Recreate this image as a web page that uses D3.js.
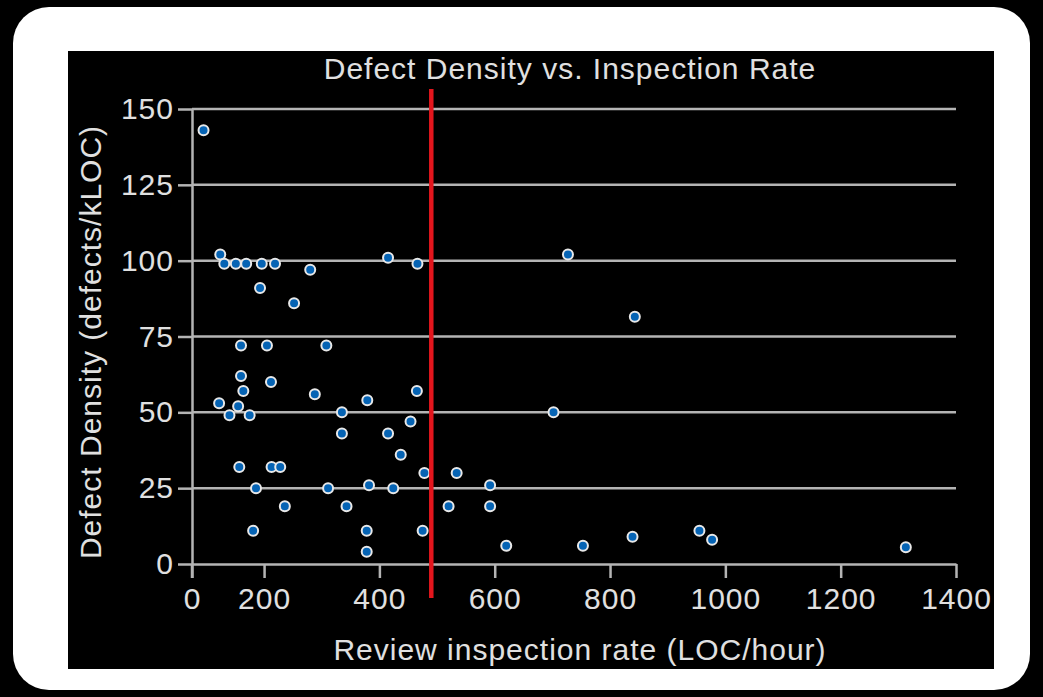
<!DOCTYPE html>
<html>
<head>
<meta charset="utf-8">
<script src="https://cdn.jsdelivr.net/npm/d3@7"></script>
<style>
    body { margin: 0; background: #000; }
    text { font-family: "Liberation Sans", Arial, sans-serif; fill: #e0e0e0; }
</style>
</head>
<body>
<svg id="chart" width="1043" height="697"></svg>
<script>
(function() {
    // inspection rate (LOC/hour) for each review
    var rates = [95, 124, 131, 151, 169, 196, 219, 280, 193, 252, 415, 466,
        160, 205, 308, 160, 212, 164, 288, 379, 465, 122, 140, 155, 175, 335,
        454, 335, 415, 437, 157, 213, 228, 186, 311, 382, 424, 478, 534, 236,
        343, 520, 181, 378, 475, 378, 592, 592, 620, 753, 839, 955, 977, 1313,
        727, 843, 702];
    // defect density (defects/kLOC) for each review
    var densities = [143, 102, 99, 99, 99, 99, 99, 97, 91, 86, 101, 99,
        72, 72, 72, 62, 60, 57, 56, 54, 57, 53, 49, 52, 49, 50,
        47, 43, 43, 36, 32, 32, 32, 25, 25, 26, 25, 30, 30, 19,
        19, 19, 11, 11, 11, 4, 26, 19, 6, 6, 9, 11, 8, 5.5,
        102, 81.5, 50];
    var xStart = 75;          // where the drawn x axis begins
    var xEnd = 1400;
    var xTicks = [200, 400, 600, 800, 1000, 1200, 1400];
    var yTicks = [0, 25, 50, 75, 100, 125, 150];
    var targetRate = 490;     // red reference line

    var data = rates.map(function(r, i) { return {rate: r, density: densities[i]}; });

    var svg = d3.select("#chart"),
        margin = {top: 109, left: 192, bottom: 133, right: 87},
        width = 1043, height = 697;

    // white rounded frame and black panel
    svg.append("rect")
        .attr("x", 13).attr("y", 7)
        .attr("width", 1017).attr("height", 683)
        .attr("rx", 36)
        .attr("fill", "#fff");
    svg.append("rect")
        .attr("x", 68).attr("y", 51)
        .attr("width", 926).attr("height", 618)
        .attr("fill", "#000");

    var xScale = d3.scaleLinear()
        .domain([xStart, xEnd])
        .range([margin.left, width - margin.right]);

    var yScale = d3.scaleLinear()
        .domain([0, 150])
        .range([height - margin.bottom - 0, margin.top]);

    // gridlines
    svg.append("g")
        .selectAll("line")
        .data(yTicks.slice(1))
        .enter().append("line")
        .attr("x1", xScale(xStart))
        .attr("x2", xScale(xEnd))
        .attr("y1", d => yScale(d))
        .attr("y2", d => yScale(d))
        .attr("stroke", "#b4b4b4")
        .attr("stroke-width", 2.5);

    var xAxis = svg.append("g")
        .attr("transform", `translate(0,${yScale(0)})`)
        .attr("class", "x-axis")
        .call(d3.axisBottom(xScale)
            .tickValues([xStart].concat(xTicks))
            .tickFormat(d => d === xStart ? "0" : d)
            .tickSize(14)
            .tickPadding(10)
            .tickSizeOuter(0));

    var yAxis = svg.append("g")
        .attr("transform", `translate(${xScale(xStart)},0)`)
        .attr("class", "y-axis")
        .call(d3.axisLeft(yScale)
            .tickValues(yTicks)
            .tickSize(14)
            .tickPadding(4)
            .tickSizeOuter(0));

    svg.selectAll(".x-axis path, .y-axis path, .x-axis line, .y-axis line")
        .attr("stroke", "#b4b4b4")
        .attr("stroke-width", 2.5);
    svg.selectAll(".x-axis text, .y-axis text")
        .attr("fill", "#e0e0e0")
        .style("font-size", "30px")
        .style("letter-spacing", "1px")
        .style("font-family", '"Liberation Sans", Arial, sans-serif');
    svg.selectAll(".x-axis text").attr("dy", "0.71em");

    // extend the y axis down to the x tick length
    svg.append("line")
        .attr("x1", xScale(xStart)).attr("x2", xScale(xStart))
        .attr("y1", yScale(0)).attr("y2", yScale(0) + 14)
        .attr("stroke", "#b4b4b4")
        .attr("stroke-width", 2.5);

    // points
    svg.append("g")
        .selectAll("circle")
        .data(data)
        .enter().append("circle")
        .attr("cx", d => xScale(d.rate))
        .attr("cy", d => yScale(d.density))
        .attr("r", 5)
        .attr("fill", "#0563b4")
        .attr("stroke", "#e8e8e8")
        .attr("stroke-width", 2);

    // red reference line
    svg.append("line")
        .attr("x1", xScale(targetRate)).attr("x2", xScale(targetRate))
        .attr("y1", margin.top - 20)
        .attr("y2", yScale(0) + 34)
        .attr("stroke", "#e3161d")
        .attr("stroke-width", 4.5);

    // title and axis labels
    svg.append("text")
        .attr("x", (xScale(xStart) + xScale(xEnd)) / 2 - 4)
        .attr("y", 79)
        .attr("text-anchor", "middle")
        .style("font-size", "30px")
        .style("letter-spacing", "1px")
        .text("Defect Density vs. Inspection Rate");

    svg.append("text")
        .attr("x", (xScale(xStart) + xScale(xEnd)) / 2 + 6)
        .attr("y", 660)
        .attr("text-anchor", "middle")
        .style("font-size", "30px")
        .style("letter-spacing", "1px")
        .text("Review inspection rate (LOC/hour)");

    svg.append("text")
        .attr("transform", "translate(101,342) rotate(-90)")
        .attr("text-anchor", "middle")
        .style("font-size", "30px")
        .style("letter-spacing", "1px")
        .text("Defect Density (defects/kLOC)");
})();
</script>
</body>
</html>
